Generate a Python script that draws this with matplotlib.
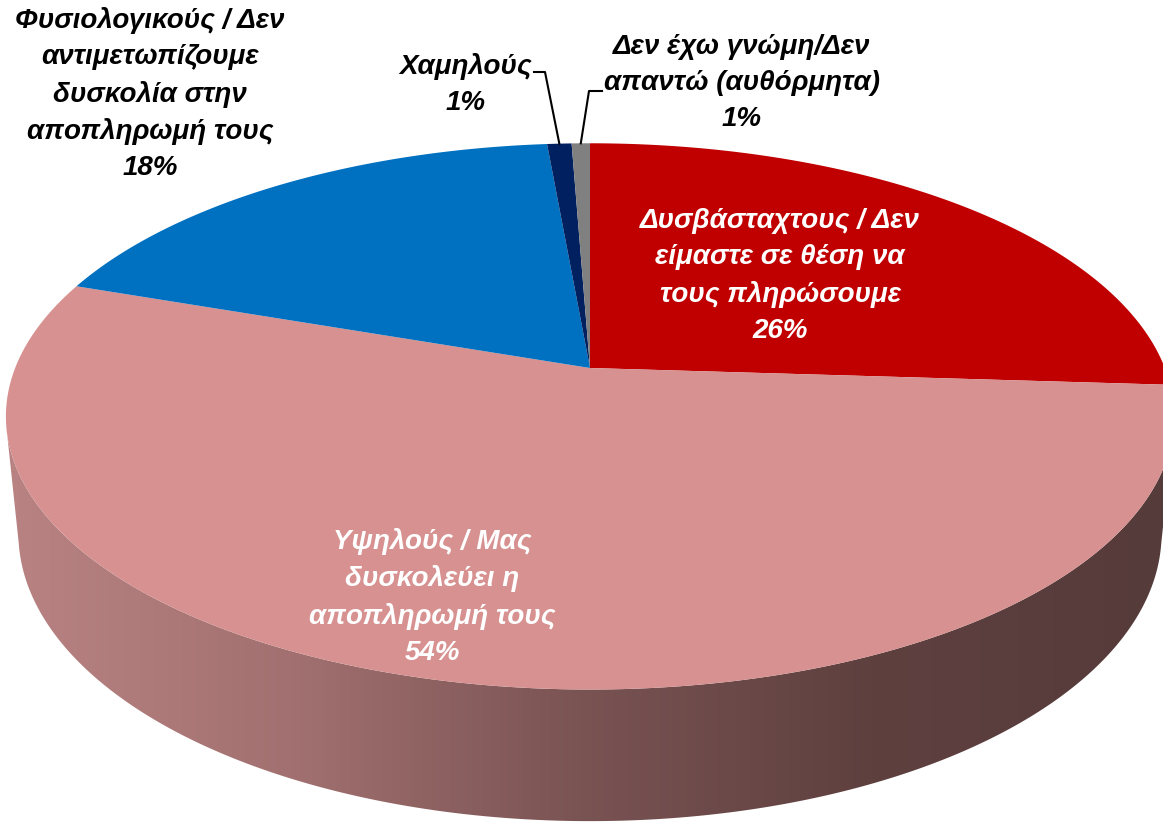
import numpy as np
import matplotlib
matplotlib.use('Agg')
import matplotlib.pyplot as plt
from matplotlib.patches import Polygon
from matplotlib.colors import LinearSegmentedColormap

# data (clockwise from 12 o'clock)
categories = ['Δυσβάσταχτους / Δεν\nείμαστε σε θέση να\nτους πληρώσουμε',
              'Υψηλούς / Μας\nδυσκολεύει η\nαποπληρωμή τους',
              'Φυσιολογικούς / Δεν\nαντιμετωπίζουμε\nδυσκολία στην\nαποπληρωμή τους',
              'Χαμηλούς',
              'Δεν έχω γνώμη/Δεν\nαπαντώ (αυθόρμητα)']
values = [26.0, 54.3, 18.3, 0.8, 0.6]
colors = ['#C00000', '#D69190', '#0070C0', '#002060', '#808080']

plt.rcParams['font.family'] = ['Liberation Sans', 'DejaVu Sans']

W, H = 1163, 826
fig = plt.figure(figsize=(W / 100, H / 100), dpi=100)
ax = fig.add_axes([0, 0, 1, 1])
ax.set_xlim(0, W)
ax.set_ylim(H, 0)
ax.axis('off')

# perspective projection of the pie disc
cx, cy = 590, 368
F, L = 2880.0, 5.01
el = np.radians(27.4)
se, ce = np.sin(el), np.cos(el)
depth = 0.231


def proj(t, z=0.0):
    X, Y = np.cos(t), np.sin(t)
    d = L + Y * ce - z * se
    v = Y * se + z * ce
    return cx + F * X / d, cy - F * v / d


# side wall (visible front part) with horizontal gradient
t_side = np.linspace(np.radians(192), np.radians(348), 300)
xs_top, ys_top = proj(t_side)
xs_bot, ys_bot = proj(t_side, -depth)
side_pts = np.column_stack([np.r_[xs_top, xs_bot[::-1]], np.r_[ys_top, ys_bot[::-1]]])
side = Polygon(side_pts, closed=True, facecolor='none', edgecolor='none')
ax.add_patch(side)
grad = LinearSegmentedColormap.from_list('side', ['#BA8383', '#A27070', '#7A5353', '#5E403F', '#563B3B'])
img = ax.imshow(np.linspace(0, 1, 256)[None, :], cmap=grad, aspect='auto',
                extent=[0, W, H, 0], zorder=1)
img.set_clip_path(side)

# top faces
angles = 90 - np.cumsum([0] + values) * 3.6
for i in range(len(values)):
    t = np.radians(np.linspace(angles[i], angles[i + 1], 200))
    px, py = proj(t)
    pts = np.column_stack([np.r_[cx, px], np.r_[cy, py]])
    ax.add_patch(Polygon(pts, closed=True, facecolor=colors[i], edgecolor='none', zorder=2))

pct = [f'{round(v)}%' for v in values]
tkw = dict(ha='center', va='center', fontsize=20, fontweight='bold', fontstyle='italic',
           linespacing=1.5, zorder=5)

ax.text(780, 276, categories[0] + '\n' + pct[0], color='white', **tkw)
ax.text(432, 597, categories[1] + '\n' + pct[1], color='white', **tkw)
ax.text(150, 94, categories[2] + '\n' + pct[2], color='black', **tkw)
ax.text(466, 85, categories[3] + '\n' + pct[3], color='black', **tkw)
ax.text(742, 83, categories[4] + '\n' + pct[4], color='black', **tkw)

# leader lines for the small slices
mid3 = np.radians((angles[3] + angles[4]) / 2)
mid4 = np.radians((angles[4] + angles[5]) / 2)
x3, y3 = proj(mid3)
x4, y4 = proj(mid4)
ax.plot([534, 545, x3], [72, 72, y3], color='black', lw=1.5, zorder=4)
ax.plot([602, 589, x4], [91, 91, y4], color='black', lw=1.5, zorder=4)

fig.savefig('out.png', dpi=100)
